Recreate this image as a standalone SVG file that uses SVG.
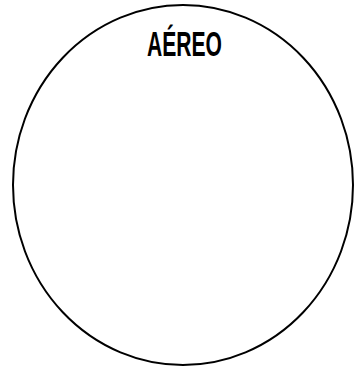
<svg xmlns="http://www.w3.org/2000/svg" width="355" height="371" viewBox="0 0 355 371">
<style>
.shape{fill:#ffffff;stroke:#000000;stroke-width:2}
.label{font-family:"Liberation Sans",Arial,sans-serif;font-weight:bold;font-size:35px;fill:#000000}
</style>
<rect width="355" height="371" fill="#ffffff"/>
<g id="aereo">
<ellipse class="shape" cx="183" cy="185" rx="170" ry="180"/>
<text class="label" x="147" y="56" textLength="75" lengthAdjust="spacingAndGlyphs">AÉREO</text>
</g>
</svg>
